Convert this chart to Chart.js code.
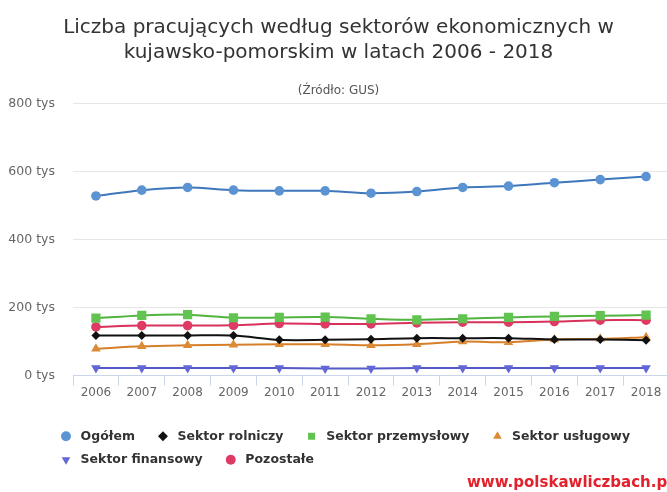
<!DOCTYPE html>
<html lang="pl">
<head>
<meta charset="utf-8">
<title>Liczba pracujących według sektorów ekonomicznych</title>
<script src="https://cdn.jsdelivr.net/npm/chart.js@4.4.1/dist/chart.umd.min.js"></script>
<style>
    html, body { margin: 0; padding: 0; background: #fff; overflow: hidden; }
    #wrap { width: 667px; height: 492px; overflow: hidden; position: relative; }
    #box { width: 680px; height: 492px; }
</style>
</head>
<body>
<div id="wrap"><div id="box"><canvas id="chart"></canvas></div></div>
<script>
// lata
const years = ['2006', '2007', '2008', '2009', '2010', '2011', '2012', '2013', '2014', '2015', '2016', '2017', '2018'];

// liczba pracujących, tys. osób
const ogolem       = [528, 545, 553, 545, 543, 543, 536, 541, 553, 557, 567, 576, 585];
const rolniczy     = [118, 118, 118, 118, 105, 105, 107, 110, 110, 110, 106, 106, 104];
const przemyslowy  = [169, 177, 179, 170, 171, 172, 167, 164, 167, 171, 174, 176, 178];
const uslugowy     = [79, 86, 89, 91, 92, 92, 89, 92, 100, 98, 106, 108, 113];
const finansowy    = [22, 22, 22, 22, 22, 21, 21, 22, 22, 22, 22, 22, 22];
const pozostale    = [143, 147, 147, 148, 153, 152, 152, 155, 157, 157, 159, 163, 163];

const yTicks = [0, 200, 400, 600, 800];

const FONT = '"DejaVu Sans", "Liberation Sans", sans-serif';

// promień znacznika zależnie od kształtu
const markerSize = { circle: 4.8, rectRot: 4.5, rect: 6.5, triangle: 5.5 };

function series(label, data, line, fill, style, rotation) {
    return {
        // spacje dają odstępy w legendzie jak w oryginale
        label: ' ' + label + '   ',
        data: data,
        borderColor: line,
        backgroundColor: fill,
        pointBackgroundColor: fill,
        pointBorderColor: fill,
        pointBorderWidth: 0,
        pointStyle: style,
        pointRotation: rotation || 0,
        pointRadius: markerSize[style],
        borderWidth: 2,
        tension: 0.3,
        fill: false
    };
}

// przesuwa legende w prawo, jak w oryginale
const legendShift = {
    id: 'legendShift',
    afterLayout(chart) {
        chart.legend.left += 43;
        chart.legend.right += 43;
    }
};

const watermark = {
    id: 'watermark',
    afterDraw(chart) {
        const ctx = chart.ctx;
        ctx.save();
        ctx.font = 'bold 15px ' + FONT;
        ctx.fillStyle = '#e3202b';
        ctx.textAlign = 'left';
        ctx.textBaseline = 'middle';
        ctx.fillText('www.polskawliczbach.pl', 467, 483);
        ctx.restore();
    }
};

new Chart(document.getElementById('chart'), {
    type: 'line',
    data: {
        labels: years,
        datasets: [
            series('Ogółem', ogolem, '#3f77bb', '#5b93d3', 'circle'),
            series('Sektor rolniczy', rolniczy, '#111111', '#111111', 'rectRot'),
            series('Sektor przemysłowy', przemyslowy, '#52b33f', '#62c450', 'rect'),
            series('Sektor usługowy', uslugowy, '#d67f2a', '#dc8a35', 'triangle'),
            series('Sektor finansowy', finansowy, '#5459c8', '#6266d6', 'triangle', 180),
            series('Pozostałe', pozostale, '#d8315c', '#de3a64', 'circle')
        ]
    },
    options: {
        responsive: true,
        maintainAspectRatio: false,
        animation: false,
        layout: { padding: { top: 13, left: 8, right: 11, bottom: 16 } },
        plugins: {
            title: {
                display: true,
                text: ['Liczba pracujących według sektorów ekonomicznych w', 'kujawsko-pomorskim w latach 2006 - 2018'],
                color: '#333333',
                font: { family: FONT, size: 20, weight: 'normal', lineHeight: 1.25 },
                padding: { top: 2, bottom: 19 }
            },
            subtitle: {
                display: true,
                text: '(Źródło: GUS)',
                color: '#555555',
                font: { family: FONT, size: 12 },
                padding: { top: 0, bottom: 5 }
            },
            legend: {
                position: 'bottom',
                align: 'start',
                title: {
                    display: true,
                    text: '',
                    font: { size: 12, lineHeight: 1 },
                    padding: { top: 7, bottom: 0 }
                },
                labels: {
                    usePointStyle: true,
                    boxWidth: 8,
                    boxHeight: 7,
                    padding: 11,
                    color: '#333333',
                    font: { family: FONT, size: 12.5, weight: 'bold', lineHeight: 0.8 }
                }
            },
            tooltip: { enabled: false }
        },
        scales: {
            x: {
                offset: true,
                grid: {
                    offset: true,
                    drawOnChartArea: false,
                    drawTicks: true,
                    tickLength: 10,
                    color: '#ccd6eb'
                },
                border: { color: '#ccd6eb' },
                ticks: {
                    color: '#666666',
                    padding: 0,
                    maxRotation: 0,
                    autoSkip: false,
                    font: { family: FONT, size: 12 }
                }
            },
            y: {
                min: 0,
                max: 800,
                afterBuildTicks(axis) {
                    axis.ticks = yTicks.map(v => ({ value: v }));
                },
                afterFit(axis) {
                    axis.width = 65;
                },
                grid: { color: '#e6e6e6', drawTicks: false },
                border: { display: false },
                ticks: {
                    color: '#666666',
                    padding: 18,
                    font: { family: FONT, size: 12.5 },
                    callback: v => v + ' tys'
                }
            }
        }
    },
    plugins: [legendShift, watermark]
});
</script>
</body>
</html>
